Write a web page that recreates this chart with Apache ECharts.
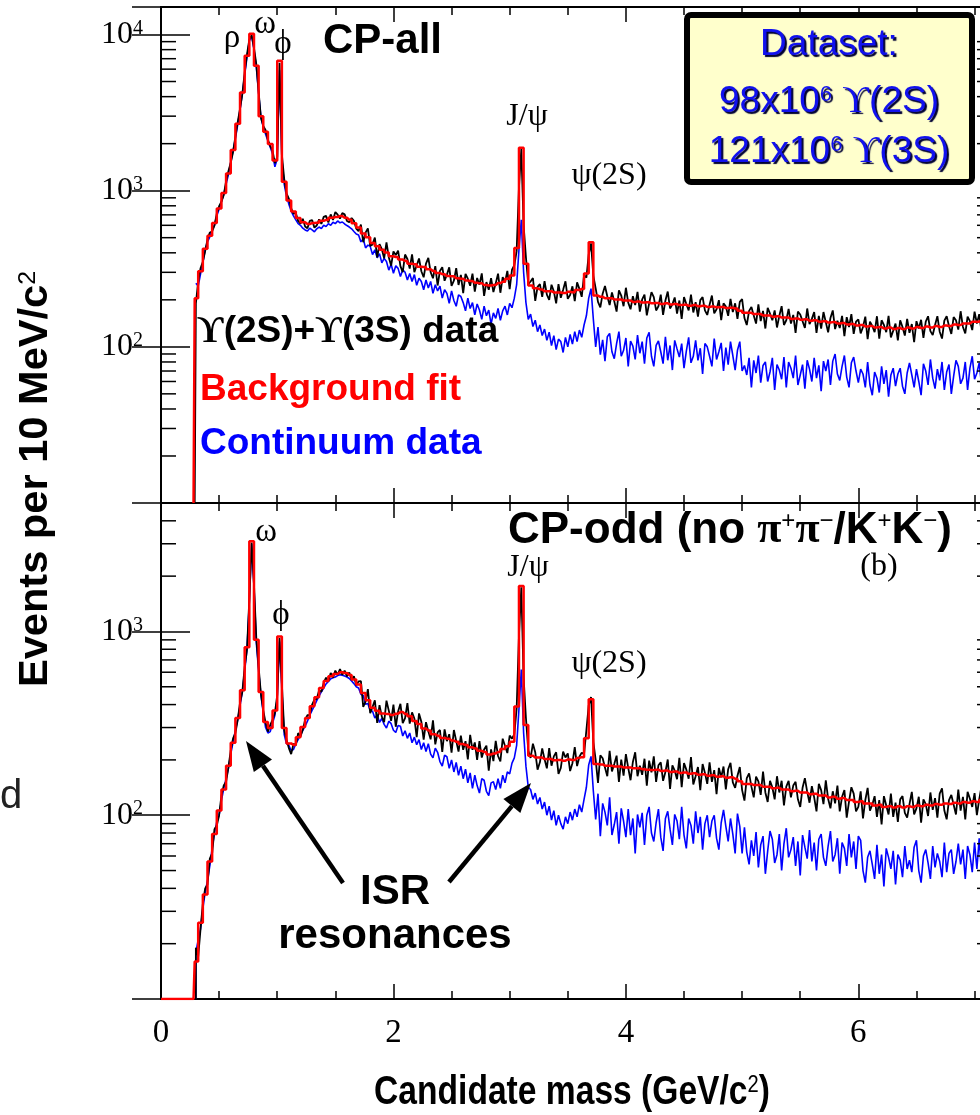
<!DOCTYPE html>
<html><head><meta charset="utf-8">
<script src="https://cdn.jsdelivr.net/npm/echarts@6/dist/echarts.min.js"></script>
<style>html,body{margin:0;padding:0;background:#fff}#c{width:980px;height:1115px}</style>
</head><body><div id="c"></div>
<script>
// ---- bin centres (GeV/c^2): fit on 40 MeV bins, data on 20 MeV bins ----
const fitBins = [];
for (let i = 0; i < 172; i++) fitBins.push(+(0.30 + 0.04 * i).toFixed(2));
const dataBins = [];
for (let i = 0; i < 343; i++) dataBins.push(+(0.30 + 0.02 * i).toFixed(2));

// ---- (a) CP-all ----
const topFit = [205,305,425,515,620,770,965,1290,1820,2680,
 4250,7300,10100,6300,3000,2380,1990,1560,6800,1140,
 865,735,668,628,612,620,622,641,650,671,
 678,688,670,652,618,580,532,503,462,440,
 418,402,380,376,362,355,341,338,326,324,
 314,306,297,292,284,283,275,273,266,264,
 257,255,249,247,249,256,261,273,286,430,
 1880,340,247,237,233,227,227,223,223,221,
 225,224,231,235,295,468,213,209,205,205,
 201,201,198,198,194,195,192,193,190,191,
 188,190,187,188,185,186,183,185,182,183,
 180,181,179,180,177,178,176,170,165,165,
 162,162,159,159,156,157,154,154,151,152,
 149,150,147,148,145,146,143,144,141,142,
 139,140,137,138,135,136,133,134,131,133,
 130,132,130,133,131,134,132,135,133,136,
 134,137,136,139,138,141,141,145,145,149,
 149,152];
const topData = [190,262,318,350,410,488,540,548,600,712,
 795,850,940,1150,1330,1510,1770,2220,2750,3350,
 4150,5700,7450,9300,9900,8200,6450,4300,2920,2600,
 2440,2120,1930,1800,1500,1650,6600,1700,1190,960,
 890,770,712,720,640,615,660,590,575,640,
 648,580,598,655,612,680,690,625,705,650,
 730,702,662,718,705,640,628,668,640,572,
 551,606,468,539,573,443,453,501,374,455,
 422,369,466,375,331,408,387,413,329,301,
 390,365,317,391,301,332,368,305,279,341,
 371,301,275,329,247,306,324,265,290,323,
 246,265,319,249,289,221,293,273,246,294,
 226,276,250,295,212,260,232,275,224,255,
 294,222,279,259,306,234,312,333,410,1050,
 1850,600,374,252,262,276,197,242,252,209,
 263,216,200,250,227,190,252,206,232,263,
 203,215,244,196,259,235,209,288,277,390,
 460,285,237,194,179,219,245,211,185,223,
 196,168,230,213,182,239,192,174,211,185,
 225,168,201,216,159,190,224,208,171,182,
 216,160,198,226,176,187,207,163,198,151,
 208,188,171,216,166,193,156,199,208,171,
 160,186,213,164,174,199,148,190,181,158,
 203,167,190,151,194,202,153,138,170,180,
 159,141,187,146,170,131,178,163,148,171,
 133,158,182,138,148,175,141,160,123,168,
 161,146,132,176,140,151,167,123,158,131,
 167,144,124,153,171,130,147,132,158,117,
 155,134,162,121,145,150,122,134,156,112,
 145,136,124,157,113,148,138,124,158,115,
 127,141,110,148,134,118,151,123,140,107,
 146,131,149,114,145,157,126,119,138,157,
 125,113,147,157,136,121,155,148,129,169,
 134,122,156,146,128,168,141,162,125,155,
 168,140,160];
const topCont = [255,245,292,345,420,470,505,560,600,690,
 760,850,950,1100,1270,1520,1800,2150,2650,3300,
 4200,5500,7200,9100,9800,8000,6200,4200,2950,2550,
 2300,2080,1900,1720,1420,1600,5900,1600,1100,920,
 820,740,690,650,615,600,575,560,552,575,
 560,545,570,585,572,600,590,615,600,628,
 615,640,622,630,612,598,585,570,548,528,
 520,470,492,430,448,440,390,418,372,395,
 345,368,352,310,338,296,330,318,282,312,
 300,268,295,262,290,248,275,262,232,268,
 238,262,220,250,228,245,205,232,220,190,
 228,198,182,215,210,192,170,205,176,192,
 160,188,172,150,182,158,172,140,165,152,
 176,148,170,182,160,190,178,205,250,420,
 650,300,192,150,162,135,148,125,138,118,
 130,110,124,102,118,96,112,108,92,115,
 100,120,104,125,108,128,115,138,158,205,
 236,150,100,134,89,111,81,116,122,93,
 84,105,125,87,95,114,75,109,101,83,
 119,91,108,78,114,124,87,75,102,109,
 93,78,116,82,102,71,110,97,86,105,
 73,94,115,79,87,110,82,98,67,105,
 100,87,75,113,83,93,106,70,99,77,
 108,88,71,95,108,70,76,66,85,55,
 82,68,88,59,76,80,60,69,85,53,
 77,71,62,86,55,80,73,63,88,57,
 66,77,54,82,72,60,85,63,76,52,
 81,70,83,57,81,90,67,61,75,88,
 64,55,79,86,70,59,72,67,55,80,
 57,49,69,63,51,75,58,71,48,66,
 73,56,67,73,56,50,68,79,66,55,
 72,60,49,78,70,57,83,63,54,72,
 61,80,53,69,77,50,65,82,75,58,
 63,80,53,73,87,62,68,79,57,75,
 51,82,71];

// ---- (b) CP-odd ----
const botFit = [16,26,37,56,79,106,138,186,248,338,
 478,820,3100,900,468,322,298,372,940,298,
 246,241,266,302,338,392,438,492,538,570,
 586,600,594,580,548,514,463,422,384,370,
 358,356,351,357,364,356,346,326,314,296,
 289,276,271,263,261,255,251,244,241,234,
 231,224,221,214,217,221,229,237,251,390,
 1770,310,211,206,206,202,202,199,200,198,
 201,200,205,207,262,427,190,189,186,186,
 184,184,182,182,180,180,178,177,176,177,
 174,175,172,173,170,171,168,169,166,167,
 164,165,162,163,160,161,158,153,148,148,
 146,146,143,143,140,141,138,138,135,136,
 133,133,130,131,128,128,125,126,123,124,
 121,121,118,119,116,116,113,114,111,112,
 110,112,110,112,111,113,112,114,113,115,
 114,116,115,117,116,118,117,119,118,121,
 120,122];
const botData = [19,17,24,33,40,42,58,62,84,88,
 100,128,145,152,182,225,262,280,330,410,
 470,640,800,1500,3050,1800,920,640,455,372,
 318,285,310,330,360,450,920,520,290,258,
 232,215,245,240,280,268,292,330,350,352,
 400,425,430,478,470,525,560,535,595,560,
 612,580,625,580,612,570,598,545,570,510,
 535,537,389,415,485,359,388,422,318,397,
 344,321,420,371,326,400,303,367,404,317,
 338,407,315,363,336,266,358,323,258,321,
 286,259,328,243,282,291,221,293,253,276,
 219,291,254,222,271,227,253,201,274,227,
 249,200,253,206,228,239,175,228,197,254,
 210,196,261,238,218,271,261,276,380,950,
 1740,560,338,225,205,245,220,177,194,231,
 202,180,232,186,209,220,168,181,222,206,
 217,174,192,235,185,208,219,215,290,395,
 440,250,200,150,212,204,182,163,224,173,
 190,211,152,201,164,215,181,155,195,220,
 163,186,166,203,145,198,171,209,152,187,
 194,154,172,201,139,187,175,157,205,142,
 192,177,158,207,147,163,183,137,190,170,
 148,194,152,176,130,181,161,184,138,178,
 193,151,141,164,183,137,120,159,169,143,
 125,162,153,129,173,133,118,154,142,122,
 163,133,154,113,143,154,125,145,152,122,
 111,141,159,134,117,144,125,105,148,137,
 115,155,123,109,135,116,145,105,126,137,
 97,119,142,131,105,111,135,96,121,141,
 106,114,127,98,121,89,127,113,101,131,
 98,117,92,122,127,103,97,115,134,101,
 109,126,91,122,115,99,133,107,124,97,
 131,140,106,95,121,129,114,101,138,106,
 126,95,134,123,111,132,100,122,144,106,
 116,140,111];
const botCont = [18,21,24,31,38,44,53,66,80,92,
 100,120,140,158,180,215,250,290,330,395,
 470,610,800,1450,3000,1750,870,610,450,360,
 300,280,285,318,350,430,880,480,275,245,
 240,225,228,245,258,272,290,305,325,350,
 372,395,420,445,470,492,518,535,552,560,
 565,575,582,578,572,565,555,538,520,500,
 492,455,448,402,405,370,368,338,352,320,
 336,312,298,325,315,290,282,308,305,270,
 288,262,280,248,266,242,258,228,248,222,
 245,215,205,232,220,196,185,212,208,180,
 200,172,194,165,185,158,178,150,170,140,
 165,145,132,158,155,135,128,150,152,138,
 158,140,165,150,172,168,192,205,240,380,
 620,280,185,142,138,122,132,115,125,108,
 118,100,112,94,106,88,100,90,84,98,
 90,104,94,108,98,114,104,122,142,188,
 209,135,95,131,77,116,104,88,125,78,
 89,104,70,109,93,76,108,78,96,62,
 101,86,103,69,100,111,80,72,91,108,
 76,64,96,105,84,69,101,93,74,111,
 78,66,96,88,70,105,80,98,65,90,
 100,76,93,100,75,65,91,107,87,72,
 96,79,62,102,87,62,86,63,54,73,
 60,81,52,69,77,48,64,82,74,55,
 61,79,50,70,85,59,65,76,53,72,
 47,78,67,58,83,56,71,50,74,79,
 59,53,68,82,56,61,75,48,71,66,
 53,79,59,72,51,77,73,50,43,59,
 64,54,45,69,48,61,41,66,59,51,
 64,42,61,57,46,68,51,57,49,67,
 73,50,43,60,65,55,45,68,52,62,
 56,46,71,49,62,65,48,56,70,54,
 65,45,68,61,49,71,51,75,48,70,
 64,44,61];

// ---- axis settings ----
const xTickLabels = [0, 2, 4, 6];
const topYRange = [10, 15000];
const botYRange = [10, 5000];
const topMinor = [20,30,40,50,60,70,80,90,200,300,400,500,600,700,800,900,2000,3000,4000,5000,6000,7000,8000,9000];
const botMinor = [20,30,40,50,60,70,80,90,200,300,400,500,600,700,800,900,2000,3000,4000];
const XMIN = 0, XMAX = 7.15;

const serif = "'Liberation Serif','DejaVu Serif','Times New Roman',serif";
const sans = "'Liberation Sans',Arial,Helvetica,sans-serif";

function pairs(bins, vals, lead) { return lead.concat(bins.map((m, i) => [m, vals[i]])); }

const tickStyle = { color: '#000', width: 1.5 };
function xAxes(gi, showLabels) {
  const base = { type: 'value', gridIndex: gi, min: XMIN, max: XMAX, splitLine: { show: false }, axisLabel: { show: false } };
  const line = { show: true, onZero: false, lineStyle: { color: '#000', width: 2 } };
  return [
    Object.assign({}, base, { position: 'bottom', interval: 2, axisLine: line,
      axisTick: { inside: true, length: 15, lineStyle: tickStyle },
      axisLabel: showLabels ? { show: true, margin: 18, color: '#000', fontFamily: serif, fontSize: 33,
        formatter: v => xTickLabels.some(t => Math.abs(t - v) < 1e-6) ? String(Math.round(v)) : '' } : { show: false } }),
    Object.assign({}, base, { position: 'bottom', interval: 0.5, axisLine: { show: false },
      axisTick: { inside: true, length: 8, lineStyle: tickStyle } }),
    Object.assign({}, base, { position: 'top', interval: 2, axisLine: line,
      axisTick: { inside: true, length: 15, lineStyle: tickStyle } }),
    Object.assign({}, base, { position: 'top', interval: 0.5, axisLine: { show: false },
      axisTick: { inside: true, length: 8, lineStyle: tickStyle } })
  ];
}
function yFmt(v) {
  const e = Math.round(Math.log10(v));
  if (e < 2 || Math.abs(v - Math.pow(10, e)) > 1e-6 * v) return '';
  return '10{sup|' + e + '}';
}
function yAxes(gi, range) {
  const common = { type: 'log', logBase: 10, gridIndex: gi, min: range[0], max: range[1], splitLine: { show: false },
    axisLine: { show: true, lineStyle: { color: '#000', width: 2 } },
    axisTick: { show: true, inside: true, length: 29, lineStyle: tickStyle } };
  return [
    Object.assign({}, common, { position: 'left', axisLabel: { show: true, formatter: yFmt, margin: 18, color: '#000',
      fontFamily: serif, fontSize: 32, rich: { sup: { fontSize: 20, fontFamily: serif, color: '#000', verticalAlign: 'top', lineHeight: 20 } } } }),
    Object.assign({}, common, { position: 'right', axisLabel: { show: false } })
  ];
}
function minorTicks(xi, yi, vals) {
  return { type: 'custom', xAxisIndex: xi, yAxisIndex: yi, silent: true, z: 6, clip: false,
    data: vals.map(v => [XMIN, v]), encode: { x: 0, y: 1 },
    renderItem: function (params, api) {
      const v = api.value(1);
      const a = api.coord([XMIN, v]), b = api.coord([XMAX, v]);
      return { type: 'group', children: [
        { type: 'line', shape: { x1: a[0], y1: a[1], x2: a[0] + 15, y2: a[1] }, style: { stroke: '#000', lineWidth: 1.5 } },
        { type: 'line', shape: { x1: b[0], y1: b[1], x2: b[0] - 15, y2: b[1] }, style: { stroke: '#000', lineWidth: 1.5 } }
      ] };
    } };
}
function hist(name, xi, yi, data, color, width, z, step) {
  return { name, type: 'line', xAxisIndex: xi, yAxisIndex: yi, data, step: step, showSymbol: false, symbol: 'none',
    lineStyle: { color, width }, z, animation: false, clip: true };
}

// ---- annotations ----
function T(x, y, text, o) {
  o = o || {};
  const st = { text, fill: o.fill || '#000', fontSize: o.size || 32, fontFamily: o.family || sans,
    fontWeight: o.weight || 'normal', align: o.align || 'center', verticalAlign: 'middle',
    textAlign: o.align || 'center', textVerticalAlign: 'middle' };
  if (o.rich) st.rich = o.rich;
  if (o.shadow) { st.textShadowColor = o.shadow; st.textShadowOffsetX = 2; st.textShadowOffsetY = 2; st.textShadowBlur = 1; }
  return { type: 'text', x, y, rotation: o.rot || 0, scaleX: o.sx || 1, z: 100, style: st };
}
function arrow(x0, y0, x1, y1) {
  const dx = x1 - x0, dy = y1 - y0, L = Math.hypot(dx, dy), ux = dx / L, uy = dy / L;
  const hl = 30, hw = 11, bx = x1 - ux * hl, by = y1 - uy * hl, nx = -uy, ny = ux;
  return [
    { type: 'line', z: 100, shape: { x1: x0, y1: y0, x2: bx, y2: by }, style: { stroke: '#000', lineWidth: 4.5 } },
    { type: 'polygon', z: 100, shape: { points: [[x1, y1], [bx + nx * hw, by + ny * hw], [bx - nx * hw, by - ny * hw]] }, style: { fill: '#000' } }
  ];
}
const supS = (size, fill) => ({ fontSize: size, verticalAlign: 'top', fill, color: fill });
const ups = (size, fill, weight) => ({ fontSize: size, fontFamily: serif, fontWeight: weight || 'bold', fill, color: fill });

const graphics = [
  T(232, 38, 'ρ', { family: serif, size: 33 }),
  T(265, 24, 'ω', { family: serif, size: 33 }),
  T(283, 44, 'ϕ', { family: serif, size: 33 }),
  T(323, 41, 'CP-all', { size: 42, weight: 'bold', align: 'left' }),
  T(527, 117, 'J/ψ', { family: serif, size: 32 }),
  T(609, 176, 'ψ(2S)', { family: serif, size: 32 }),
  T(197, 332, '{u|ϒ}(2S)+{u|ϒ}(3S) data', { size: 37, weight: 'bold', align: 'left', rich: { u: ups(37, '#000') } }),
  T(200, 390, 'Background fit', { size: 37, weight: 'bold', align: 'left', fill: '#ff0000' }),
  T(200, 444, 'Continuum data', { size: 37, weight: 'bold', align: 'left', fill: '#0000ff' }),
  { type: 'rect', z: 99, shape: { x: 687, y: 15, width: 285, height: 167, r: 4 }, style: { fill: '#ffffcc', stroke: '#000', lineWidth: 6 } },
  T(829, 45, 'Dataset:', { size: 37, fill: '#1111ee', shadow: '#000033' }),
  T(829, 102, '98x10{s|6} {u|ϒ}(2S)', { size: 37, fill: '#1111ee', shadow: '#000033', rich: { s: supS(22, '#1111ee'), u: ups(37, '#1111ee', 'normal') } }),
  T(829, 152, '121x10{s|6} {u|ϒ}(3S)', { size: 37, fill: '#1111ee', shadow: '#000033', rich: { s: supS(22, '#1111ee'), u: ups(37, '#1111ee', 'normal') } }),
  T(266, 532, 'ω', { family: serif, size: 33 }),
  T(281, 615, 'ϕ', { family: serif, size: 33 }),
  T(528, 568, 'J/ψ', { family: serif, size: 32 }),
  T(609, 664, 'ψ(2S)', { family: serif, size: 32 }),
  T(879, 567, '(b)', { family: serif, size: 32 }),
  T(508, 531, 'CP-odd (no {p|π}{s|+}{p|π}{s|−}/K{s|+}K{s|−})', { size: 44, weight: 'bold', align: 'left',
    rich: { p: { fontSize: 44, fontFamily: serif, fontWeight: 'bold', fill: '#000', color: '#000' }, s: supS(24, '#000') } }),
  T(395, 892, 'ISR', { size: 42, weight: 'bold' }),
  T(395, 936, 'resonances', { size: 42, weight: 'bold' }),
  T(36, 479, 'Events per 10 MeV/c{s|2}', { size: 40, weight: 'bold', rot: Math.PI / 2, sx: 1.04, rich: { s: supS(24, '#000') } }),
  T(572, 1093, 'Candidate mass (GeV/c{s|2})', { size: 40, weight: 'bold', sx: 0.84, rich: { s: supS(24, '#000') } }),
  T(0, 797, 'd', { size: 40, align: 'left', fill: '#222' })
].concat(arrow(343, 883, 246, 741), arrow(449, 882, 531, 783));

const option = {
  animation: false,
  backgroundColor: '#fff',
  grid: [
    { left: 161, top: 7, width: 831, height: 496, containLabel: false, outerBoundsMode: 'none' },
    { left: 161, top: 503, width: 831, height: 496, containLabel: false, outerBoundsMode: 'none' }
  ],
  xAxis: xAxes(0, false).concat(xAxes(1, true)),
  yAxis: yAxes(0, topYRange).concat(yAxes(1, botYRange)),
  series: [
    hist('Continuum data', 0, 0, pairs(dataBins, topCont, []), '#0000ff', 1.6, 2, false),
    hist('Υ(2S)+Υ(3S) data', 0, 0, pairs(dataBins, topData, [[0.29, 10]]), '#000000', 1.8, 3, false),
    hist('Background fit', 0, 0, pairs(fitBins, topFit, [[0.28, 10]]), '#ff0000', 2.5, 4, 'middle'),
    hist('Continuum data', 4, 2, pairs(dataBins, botCont, [[0.30, 10]]), '#0000ff', 1.6, 2, false),
    hist('Υ(2S)+Υ(3S) data', 4, 2, pairs(dataBins, botData, [[0.30, 10]]), '#000000', 1.8, 3, false),
    hist('Background fit', 4, 2, pairs(fitBins, botFit, [[0, 10], [0.28, 10]]), '#ff0000', 2.5, 4, 'middle'),
    minorTicks(0, 0, topMinor),
    minorTicks(4, 2, botMinor)
  ],
  graphic: graphics
};
const chart = echarts.init(document.getElementById('c'));
chart.setOption(option);
</script>
</body></html>
